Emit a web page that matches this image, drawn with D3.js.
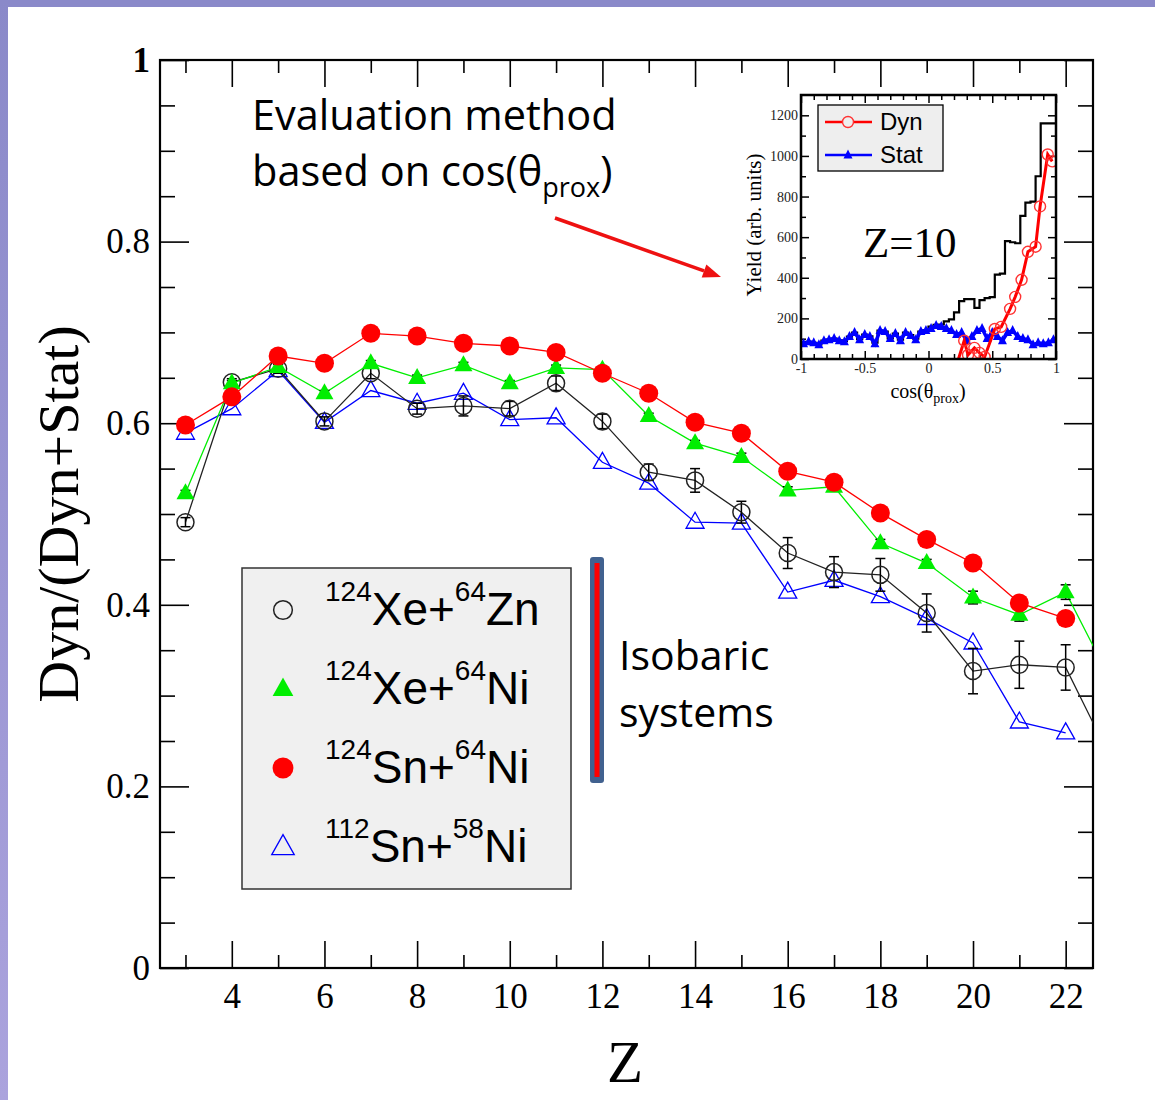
<!DOCTYPE html>
<html>
<head>
<meta charset="utf-8">
<script src="https://cdn.jsdelivr.net/npm/d3@7"></script>
<style>
html, body { margin: 0; padding: 0; background: #fff; }
svg { display: block; }
</style>
</head>
<body>
<svg id="chart" width="1155" height="1100"></svg>
<script>
'use strict';

// ---- main chart data (Z = fragment charge) ----
const zXeZn = [3, 4, 5, 6, 7, 8, 9, 10, 11, 12, 13, 14, 15, 16, 17, 18, 19, 20, 21, 22, 23];
const xeZn = [0.491, 0.645, 0.660, 0.602, 0.655, 0.616, 0.619, 0.616, 0.644, 0.602, 0.546, 0.537, 0.502, 0.457, 0.436, 0.433, 0.391, 0.327, 0.334, 0.331, 0.228];
const xeZnErr = [0.005, 0.004, 0.005, 0.005, 0.006, 0.006, 0.011, 0.008, 0.008, 0.008, 0.009, 0.013, 0.012, 0.017, 0.017, 0.018, 0.021, 0.025, 0.026, 0.025, 0.03];

const zXeNi = [3, 4, 5, 6, 7, 8, 9, 10, 11, 12, 13, 14, 15, 16, 17, 18, 19, 20, 21, 22, 23];
const xeNi = [0.523, 0.644, 0.662, 0.633, 0.666, 0.650, 0.664, 0.644, 0.661, 0.659, 0.608, 0.578, 0.563, 0.526, 0.530, 0.468, 0.446, 0.408, 0.389, 0.414, 0.314];
const xeNiErr = [0.003, 0.003, 0.003, 0.003, 0.003, 0.003, 0.003, 0.003, 0.003, 0.003, 0.003, 0.003, 0.004, 0.004, 0.004, 0.004, 0.004, 0.007, 0.007, 0.008, 0.008];

const zSn124 = [3, 4, 5, 6, 7, 8, 9, 10, 11, 12, 13, 14, 15, 16, 17, 18, 19, 20, 21, 22];
const sn124Ni64 = [0.598, 0.629, 0.674, 0.666, 0.699, 0.696, 0.688, 0.685, 0.678, 0.655, 0.633, 0.601, 0.589, 0.547, 0.535, 0.501, 0.472, 0.446, 0.402, 0.385];

const zSn112 = [3, 4, 5, 6, 7, 8, 9, 10, 11, 12, 13, 14, 15, 16, 17, 18, 19, 20, 21, 22];
const sn112Ni58 = [0.589, 0.616, 0.658, 0.601, 0.636, 0.622, 0.633, 0.604, 0.606, 0.557, 0.534, 0.491, 0.490, 0.414, 0.427, 0.409, 0.385, 0.358, 0.271, 0.259];

const xMajorTicks = [4, 6, 8, 10, 12, 14, 16, 18, 20, 22];
const xMinorTicks = [3, 5, 7, 9, 11, 13, 15, 17, 19, 21];
const yMajorTicks = [0, 0.2, 0.4, 0.6, 0.8, 1];
const yMinorTicks = [0.05, 0.1, 0.15, 0.25, 0.3, 0.35, 0.45, 0.5, 0.55, 0.65, 0.7, 0.75, 0.85, 0.9, 0.95];

const legendItems = [
    ['124', 'Xe+', '64', 'Zn'],
    ['124', 'Xe+', '64', 'Ni'],
    ['124', 'Sn+', '64', 'Ni'],
    ['112', 'Sn+', '58', 'Ni']
];

// ---- inset data (Z=10, yield vs cos(theta_prox)) ----
const binEdges = d3.range(50).map(i => -1 + i * 0.04);   // left edges of the 0.04 wide bins
const totalHist = [75, 85, 80, 72, 90, 95, 100, 92, 88, 110, 130, 98, 120, 112, 80, 140, 135, 102, 125, 95,
                   130, 118, 100, 135, 142, 160, 168, 170, 185, 195, 230, 285, 295, 295, 252, 290, 300, 305, 415, 420,
                   580, 575, 570, 705, 770, 775, 900, 1160, 1160, 1160];
const statCos = [-0.98, -0.94, -0.90, -0.86, -0.82, -0.78, -0.74, -0.70, -0.66, -0.62, -0.58, -0.54, -0.50, -0.46, -0.42, -0.38, -0.34, -0.30, -0.26, -0.22,
                 -0.18, -0.14, -0.10, -0.06, -0.02, 0.02, 0.06, 0.10, 0.14, 0.18, 0.22, 0.26, 0.30, 0.34, 0.38, 0.42, 0.46, 0.50, 0.54, 0.58,
                 0.62, 0.66, 0.70, 0.74, 0.78, 0.82, 0.86, 0.90, 0.94, 0.98];
const statYield = [75, 85, 80, 70, 90, 95, 100, 90, 85, 110, 130, 95, 120, 110, 75, 140, 135, 100, 125, 90,
                   130, 115, 95, 135, 140, 150, 165, 160, 150, 140, 120, 130, 90, 110, 140, 150, 100, 130, 110, 90,
                   130, 140, 110, 100, 95, 70, 80, 75, 80, 95];
const dynCos = [0.235, 0.28, 0.31, 0.36, 0.40, 0.44, 0.52, 0.57, 0.64, 0.68, 0.73, 0.78, 0.84, 0.875, 0.935, 0.97];
const dynYield = [0, 90, 20, 55, 30, 10, 148, 158, 247, 306, 390, 528, 553, 751, 1007, 973];
const insetXMajor = [-1, -0.5, 0, 0.5, 1];
const insetXMinor = [-0.9, -0.8, -0.7, -0.6, -0.4, -0.3, -0.2, -0.1, 0.1, 0.2, 0.3, 0.4, 0.6, 0.7, 0.8, 0.9];
const insetYMajor = [0, 200, 400, 600, 800, 1000, 1200];
const insetYMinor = [100, 300, 500, 700, 900, 1100];

const SERIF = '"Liberation Serif", "Times New Roman", serif';
const SANS = '"Liberation Sans", Arial, sans-serif';
const CALI = '"Open Sans", "Noto Sans", sans-serif';

const svg = d3.select('#chart');

// page background with the purple slide border
const defs = svg.append('defs');
const grad = defs.append('linearGradient').attr('id', 'edge').attr('x1', 0).attr('y1', 0).attr('x2', 0).attr('y2', 1);
grad.append('stop').attr('offset', '0%').attr('stop-color', '#8a89c9');
grad.append('stop').attr('offset', '100%').attr('stop-color', '#aba3dd');
svg.append('rect').attr('width', 1155).attr('height', 1100).attr('fill', '#fff');
svg.append('rect').attr('x', 0).attr('y', 0).attr('width', 1155).attr('height', 7).attr('fill', '#8a89c9');
svg.append('rect').attr('x', 0).attr('y', 0).attr('width', 8).attr('height', 1100).attr('fill', 'url(#edge)');

// ---- main plot ----
const plot = { left: 160, right: 1093, top: 60, bottom: 968 };
const x = d3.scaleLinear().domain([2.45, 22.59]).range([plot.left, plot.right]);
const y = d3.scaleLinear().domain([0, 1]).range([plot.bottom, plot.top]);

defs.append('clipPath').attr('id', 'plotclip')
    .append('rect')
    .attr('x', plot.left).attr('y', plot.top)
    .attr('width', plot.right - plot.left).attr('height', plot.bottom - plot.top);

function styleAxis(g) {
    g.select('.domain').remove();
    g.selectAll('.tick line').attr('stroke', '#000').attr('stroke-width', 1.6);
    g.selectAll('.tick text').attr('font-family', SERIF).attr('font-size', 35).attr('fill', '#000');
}

const fmtY = d => (d === 0 || d === 1) ? String(d) : d.toFixed(1);

svg.append('g').attr('transform', `translate(0,${plot.bottom})`)
    .call(d3.axisBottom(x).tickValues(xMajorTicks).tickSize(-27).tickSizeOuter(0).tickPadding(15))
    .call(styleAxis);
svg.append('g').attr('transform', `translate(0,${plot.bottom})`)
    .call(d3.axisBottom(x).tickValues(xMinorTicks).tickSize(-13).tickSizeOuter(0).tickFormat(''))
    .call(styleAxis);
svg.append('g').attr('transform', `translate(0,${plot.top})`)
    .call(d3.axisTop(x).tickValues(xMajorTicks).tickSize(-27).tickSizeOuter(0).tickFormat(''))
    .call(styleAxis);
svg.append('g').attr('transform', `translate(0,${plot.top})`)
    .call(d3.axisTop(x).tickValues(xMinorTicks).tickSize(-13).tickSizeOuter(0).tickFormat(''))
    .call(styleAxis);

const yAxisG = svg.append('g').attr('transform', `translate(${plot.left},0)`)
    .call(d3.axisLeft(y).tickValues(yMajorTicks).tickSize(-29).tickSizeOuter(0).tickPadding(10).tickFormat(fmtY))
    .call(styleAxis);
yAxisG.selectAll('.tick text').filter(d => d === 1).attr('font-weight', 'bold');
svg.append('g').attr('transform', `translate(${plot.left},0)`)
    .call(d3.axisLeft(y).tickValues(yMinorTicks).tickSize(-15).tickSizeOuter(0).tickFormat(''))
    .call(styleAxis);
svg.append('g').attr('transform', `translate(${plot.right},0)`)
    .call(d3.axisRight(y).tickValues(yMajorTicks).tickSize(-29).tickSizeOuter(0).tickFormat(''))
    .call(styleAxis);
svg.append('g').attr('transform', `translate(${plot.right},0)`)
    .call(d3.axisRight(y).tickValues(yMinorTicks).tickSize(-15).tickSizeOuter(0).tickFormat(''))
    .call(styleAxis);

svg.append('rect')
    .attr('x', plot.left).attr('y', plot.top)
    .attr('width', plot.right - plot.left).attr('height', plot.bottom - plot.top)
    .attr('fill', 'none').attr('stroke', '#000').attr('stroke-width', 2.2);

// axis titles
svg.append('text')
    .attr('transform', `translate(78,${y(0.5)}) rotate(-90)`)
    .attr('text-anchor', 'middle')
    .attr('font-family', SERIF).attr('font-size', 58)
    .text('Dyn/(Dyn+Stat)');
svg.append('text')
    .attr('x', 625).attr('y', 1082)
    .attr('text-anchor', 'middle')
    .attr('font-family', SERIF).attr('font-size', 59)
    .text('Z');

// series
const lineGen = d3.line().x(d => x(d[0])).y(d => y(d[1]));
const series = [
    { z: zSn112, v: sn112Ni58, color: '#0000ff', marker: 'openTri' },
    { z: zXeZn, v: xeZn, err: xeZnErr, color: '#222', marker: 'openCircle' },
    { z: zXeNi, v: xeNi, err: xeNiErr, color: '#00ee00', marker: 'fillTri' },
    { z: zSn124, v: sn124Ni64, color: '#ff0000', marker: 'fillCircle' }
];

const triPath = (w, h) => `M0,${-h * 0.62}L${w / 2},${h * 0.38}L${-w / 2},${h * 0.38}Z`;

function drawMarker(g, kind, color, scale = 1) {
    if (kind === 'openCircle') {
        g.append('circle').attr('r', 8.5 * scale).attr('fill', 'none').attr('stroke', color).attr('stroke-width', 1.5);
    } else if (kind === 'fillCircle') {
        g.append('circle').attr('r', 9.5 * scale).attr('fill', color);
    } else if (kind === 'fillTri') {
        g.append('path').attr('d', triPath(18 * scale, 16 * scale)).attr('fill', color);
    } else if (kind === 'openTri') {
        g.append('path').attr('d', triPath(18 * scale, 16 * scale)).attr('fill', 'none').attr('stroke', color).attr('stroke-width', 1.3);
    }
}

const dataLayer = svg.append('g').attr('clip-path', 'url(#plotclip)');
series.forEach(s => {
    const pts = s.z.map((z, i) => [z, s.v[i]]);
    const g = dataLayer.append('g');
    g.append('path').datum(pts)
        .attr('d', lineGen)
        .attr('fill', 'none').attr('stroke', s.color).attr('stroke-width', 1.3);
    if (s.err) {
        pts.forEach((p, i) => {
            const e = s.err[i];
            const eg = g.append('g').attr('stroke', '#000').attr('stroke-width', 1.5);
            eg.append('line').attr('x1', x(p[0])).attr('x2', x(p[0])).attr('y1', y(p[1] - e)).attr('y2', y(p[1] + e));
            eg.append('line').attr('x1', x(p[0]) - 5).attr('x2', x(p[0]) + 5).attr('y1', y(p[1] - e)).attr('y2', y(p[1] - e));
            eg.append('line').attr('x1', x(p[0]) - 5).attr('x2', x(p[0]) + 5).attr('y1', y(p[1] + e)).attr('y2', y(p[1] + e));
        });
    }
    pts.forEach(p => {
        const mg = g.append('g').attr('transform', `translate(${x(p[0])},${y(p[1])})`);
        drawMarker(mg, s.marker, s.color);
    });
});

// legend
const legend = svg.append('g');
legend.append('rect')
    .attr('x', 242).attr('y', 568).attr('width', 329).attr('height', 321)
    .attr('fill', '#f0f0f0').attr('stroke', '#333').attr('stroke-width', 1.5);
const legendMarkers = [
    { kind: 'openCircle', color: '#222', scale: 1.1 },
    { kind: 'fillTri', color: '#00ee00', scale: 1.15 },
    { kind: 'fillCircle', color: '#ff0000', scale: 1.1 },
    { kind: 'openTri', color: '#0000ff', scale: 1.25 }
];
legendItems.forEach((item, i) => {
    const cy = 610 + i * 79;
    const mg = legend.append('g').attr('transform', `translate(283,${cy})`);
    drawMarker(mg, legendMarkers[i].kind, legendMarkers[i].color, legendMarkers[i].scale);
    const t = legend.append('text')
        .attr('x', 325).attr('y', cy + 15)
        .attr('font-family', SANS).attr('fill', '#000');
    t.append('tspan').attr('font-size', 28).attr('dy', -24).text(item[0]);
    t.append('tspan').attr('font-size', 46).attr('dy', 24).text(item[1]);
    t.append('tspan').attr('font-size', 28).attr('dy', -24).text(item[2]);
    t.append('tspan').attr('font-size', 46).attr('dy', 24).text(item[3]);
});

// isobaric marker bar and notes
svg.append('rect').attr('x', 590).attr('y', 557).attr('width', 14).attr('height', 226).attr('rx', 3)
    .attr('fill', '#41618f');
svg.append('line').attr('x1', 597).attr('x2', 597).attr('y1', 563).attr('y2', 777)
    .attr('stroke', '#ff0000').attr('stroke-width', 5);
svg.append('text').attr('x', 619).attr('y', 670).attr('font-family', CALI).attr('font-size', 41).text('Isobaric');
svg.append('text').attr('x', 619).attr('y', 727).attr('font-family', CALI).attr('font-size', 41).text('systems');

svg.append('text').attr('x', 252).attr('y', 130).attr('font-family', CALI).attr('font-size', 41.5).text('Evaluation method');
const evalT = svg.append('text').attr('x', 252).attr('y', 186).attr('font-family', CALI).attr('font-size', 41.5);
evalT.append('tspan').text('based on cos(θ');
evalT.append('tspan').attr('font-size', 27).attr('dy', 11).text('prox');
evalT.append('tspan').attr('dy', -11).text(')');

// red arrow pointing at the inset
(function () {
    const x0 = 555, y0 = 218, x1 = 721, y1 = 277;
    const dx = x1 - x0, dy = y1 - y0, len = Math.hypot(dx, dy);
    const ux = dx / len, uy = dy / len;
    const hl = 18, hw = 7;
    const bx = x1 - ux * hl, by = y1 - uy * hl;
    svg.append('line').attr('x1', x0).attr('y1', y0).attr('x2', bx).attr('y2', by)
        .attr('stroke', '#ee1111').attr('stroke-width', 3.5);
    svg.append('path')
        .attr('d', `M${x1},${y1}L${bx - uy * hw},${by + ux * hw}L${bx + uy * hw},${by - ux * hw}Z`)
        .attr('fill', '#ee1111');
})();

// ---- inset ----
const ins = { left: 801, right: 1056, top: 95, bottom: 359 };
const ix = d3.scaleLinear().domain([-1, 1]).range([ins.left, ins.right]);
const iy = d3.scaleLinear().domain([0, 1300]).range([ins.bottom, ins.top]);

defs.append('clipPath').attr('id', 'insetclip')
    .append('rect')
    .attr('x', ins.left).attr('y', ins.top)
    .attr('width', ins.right - ins.left).attr('height', ins.bottom - ins.top);

const inset = svg.append('g');
inset.append('rect')
    .attr('x', ins.left).attr('y', ins.top)
    .attr('width', ins.right - ins.left).attr('height', ins.bottom - ins.top)
    .attr('fill', '#fff');

function styleInsetAxis(g) {
    g.select('.domain').remove();
    g.selectAll('.tick line').attr('stroke', '#000').attr('stroke-width', 1.5);
    g.selectAll('.tick text').attr('font-family', SERIF).attr('font-size', 14).attr('fill', '#222');
}

inset.append('g').attr('transform', `translate(0,${ins.bottom})`)
    .call(d3.axisBottom(ix).tickValues(insetXMajor).tickSize(-8).tickSizeOuter(0).tickPadding(4).tickFormat(d => String(d)))
    .call(styleInsetAxis);
inset.append('g').attr('transform', `translate(0,${ins.bottom})`)
    .call(d3.axisBottom(ix).tickValues(insetXMinor).tickSize(-5).tickSizeOuter(0).tickFormat(''))
    .call(styleInsetAxis);
inset.append('g').attr('transform', `translate(0,${ins.top})`)
    .call(d3.axisTop(ix).tickValues(insetXMajor).tickSize(-8).tickSizeOuter(0).tickFormat(''))
    .call(styleInsetAxis);
inset.append('g').attr('transform', `translate(0,${ins.top})`)
    .call(d3.axisTop(ix).tickValues(insetXMinor).tickSize(-5).tickSizeOuter(0).tickFormat(''))
    .call(styleInsetAxis);
inset.append('g').attr('transform', `translate(${ins.left},0)`)
    .call(d3.axisLeft(iy).tickValues(insetYMajor).tickSize(-8).tickSizeOuter(0).tickPadding(3).tickFormat(d => String(d)))
    .call(styleInsetAxis);
inset.append('g').attr('transform', `translate(${ins.left},0)`)
    .call(d3.axisLeft(iy).tickValues(insetYMinor).tickSize(-5).tickSizeOuter(0).tickFormat(''))
    .call(styleInsetAxis);
inset.append('g').attr('transform', `translate(${ins.right},0)`)
    .call(d3.axisRight(iy).tickValues(insetYMajor).tickSize(-8).tickSizeOuter(0).tickFormat(''))
    .call(styleInsetAxis);
inset.append('g').attr('transform', `translate(${ins.right},0)`)
    .call(d3.axisRight(iy).tickValues(insetYMinor).tickSize(-5).tickSizeOuter(0).tickFormat(''))
    .call(styleInsetAxis);

const insetData = inset.append('g').attr('clip-path', 'url(#insetclip)');
// total histogram (steps)
const histPts = binEdges.map((e, i) => [e, totalHist[i]]).concat([[1, totalHist[totalHist.length - 1]]]);
insetData.append('path').datum(histPts)
    .attr('d', d3.line().x(d => ix(d[0])).y(d => iy(d[1])).curve(d3.curveStepAfter))
    .attr('fill', 'none').attr('stroke', '#000').attr('stroke-width', 2.2);
// statistical component
const statPts = statCos.map((c, i) => [c, statYield[i]]);
insetData.append('path').datum(statPts)
    .attr('d', d3.line().x(d => ix(d[0])).y(d => iy(d[1])))
    .attr('fill', 'none').attr('stroke', '#0000ff').attr('stroke-width', 3.5);
statPts.forEach(p => {
    insetData.append('path')
        .attr('transform', `translate(${ix(p[0])},${iy(p[1])})`)
        .attr('d', triPath(9, 9)).attr('fill', '#0000ff');
});
// dynamical component
const dynPts = dynCos.map((c, i) => [c, dynYield[i]]);
insetData.append('path').datum(dynPts)
    .attr('d', d3.line().x(d => ix(d[0])).y(d => iy(d[1])))
    .attr('fill', 'none').attr('stroke', '#ff0000').attr('stroke-width', 3);
dynPts.slice(1).forEach(p => {
    insetData.append('circle')
        .attr('cx', ix(p[0])).attr('cy', iy(p[1])).attr('r', 5.5)
        .attr('fill', 'none').attr('stroke', '#ff3333').attr('stroke-width', 1.4);
});

inset.append('rect')
    .attr('x', ins.left).attr('y', ins.top)
    .attr('width', ins.right - ins.left).attr('height', ins.bottom - ins.top)
    .attr('fill', 'none').attr('stroke', '#000').attr('stroke-width', 2.5);

// inset legend
inset.append('rect').attr('x', 818).attr('y', 105).attr('width', 125).attr('height', 66)
    .attr('fill', '#eeeeee').attr('stroke', '#000').attr('stroke-width', 1.3);
inset.append('line').attr('x1', 825).attr('x2', 872).attr('y1', 122).attr('y2', 122)
    .attr('stroke', '#ff0000').attr('stroke-width', 2.5);
inset.append('circle').attr('cx', 848).attr('cy', 122).attr('r', 5.5)
    .attr('fill', '#eeeeee').attr('stroke', '#ff3333').attr('stroke-width', 1.4);
inset.append('line').attr('x1', 825).attr('x2', 872).attr('y1', 155).attr('y2', 155)
    .attr('stroke', '#0000ff').attr('stroke-width', 2.5);
inset.append('path').attr('transform', 'translate(848,155)').attr('d', triPath(9, 9)).attr('fill', '#0000ff');
inset.append('text').attr('x', 880).attr('y', 130).attr('font-family', SANS).attr('font-size', 24).text('Dyn');
inset.append('text').attr('x', 880).attr('y', 163).attr('font-family', SANS).attr('font-size', 24).text('Stat');

inset.append('text').attr('x', 863).attr('y', 257).attr('font-family', SERIF).attr('font-size', 43).text('Z=10');

inset.append('text')
    .attr('transform', `translate(761,${(ins.top + ins.bottom) / 2 - 2}) rotate(-90)`)
    .attr('text-anchor', 'middle')
    .attr('font-family', SERIF).attr('font-size', 21)
    .text('Yield (arb. units)');
const cosT = inset.append('text').attr('x', 928).attr('y', 398).attr('text-anchor', 'middle')
    .attr('font-family', SERIF).attr('font-size', 20);
cosT.append('tspan').text('cos(θ');
cosT.append('tspan').attr('font-size', 14).attr('dy', 5).text('prox');
cosT.append('tspan').attr('dy', -5).text(')');
</script>
</body>
</html>
